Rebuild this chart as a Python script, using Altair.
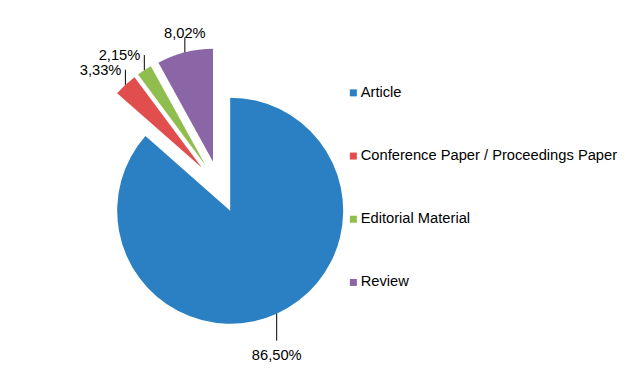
import altair as alt
import pandas as pd

categories = ["Article", "Conference Paper / Proceedings Paper", "Editorial Material", "Review"]
percentages = [86.50, 3.33, 2.15, 8.02]
colors = ["#2A80C2", "#E04E4E", "#8FBE4F", "#8A66A6"]

df = pd.DataFrame({
    "category": categories,
    "pct": percentages,
    "order": list(range(len(categories))),
})

CX, CY, R, EXPLODE = 211.5, 179, 113, 26
FONT = "Liberation Sans"
FS = 14.7

base = (
    alt.Chart(df)
    .transform_window(cum="sum(pct)", sort=[alt.SortField("order")], frame=[None, 0])
    .transform_calculate(start="(datum.cum - datum.pct) / 100 * 2 * PI")
    .transform_calculate(end="datum.cum / 100 * 2 * PI")
    .transform_calculate(mid="(datum.start + datum.end) / 2")
    .transform_calculate(cx=f"{CX} + {EXPLODE} * sin(datum.mid)")
    .transform_calculate(cy=f"{CY} - {EXPLODE} * cos(datum.mid)")
    .transform_calculate(px=f"datum.cx + {R} * sin(datum.mid)")
    .transform_calculate(py=f"datum.cy - {R} * cos(datum.mid)")
    .transform_calculate(top="cos(datum.mid) > 0")
    .transform_calculate(left="sin(datum.mid) < -0.4")
    .transform_calculate(label="replace(format(datum.pct, '.2f'), '.', ',') + '%'")
    .transform_calculate(qx="datum.px")
    .transform_calculate(qy="datum.top ? datum.py - 15 : datum.py + 27")
    .transform_calculate(ty="datum.left ? datum.qy + 5 : (datum.top ? datum.qy + 1 : datum.qy + 19)")
)

arcs = base.mark_arc(radius=R).encode(
    x=alt.X("cx:Q", scale=None, axis=None),
    y=alt.Y("cy:Q", scale=None, axis=None),
    theta=alt.Theta("start:Q", scale=None),
    theta2="end:Q",
    color=alt.Color(
        "category:N",
        scale=alt.Scale(domain=categories, range=colors),
        sort=categories,
        legend=alt.Legend(
            title=None,
            orient="none",
            legendX=338,
            legendY=77.5,
            symbolType="square",
            symbolSize=49,
            symbolStrokeWidth=0,
            labelFontSize=FS,
            labelFont=FONT,
            labelColor="black",
            rowPadding=47.2,
            labelOffset=0,
            padding=0,
            labelLimit=400,
        ),
    ),
)

leaders = base.mark_rule(color="black", strokeWidth=1).encode(
    x=alt.X("px:Q", scale=None),
    y=alt.Y("py:Q", scale=None),
    x2="qx:Q",
    y2="qy:Q",
)

left_labels = base.transform_filter("datum.left").mark_text(
    align="right", baseline="alphabetic", dx=-4, font=FONT, fontSize=FS, color="black"
).encode(
    x=alt.X("qx:Q", scale=None),
    y=alt.Y("ty:Q", scale=None),
    text="label:N",
)

other_labels = base.transform_filter("!datum.left").mark_text(
    align="center", baseline="alphabetic", font=FONT, fontSize=FS, color="black"
).encode(
    x=alt.X("qx:Q", scale=None),
    y=alt.Y("ty:Q", scale=None),
    text="label:N",
)

chart = (
    alt.layer(arcs, leaders, left_labels, other_labels)
    .properties(width=628, height=372, padding=0, autosize=alt.AutoSizeParams(type="none"))
    .configure_view(stroke="transparent")
)

chart.save("out.html", embed_options={"renderer": "svg", "actions": False})
